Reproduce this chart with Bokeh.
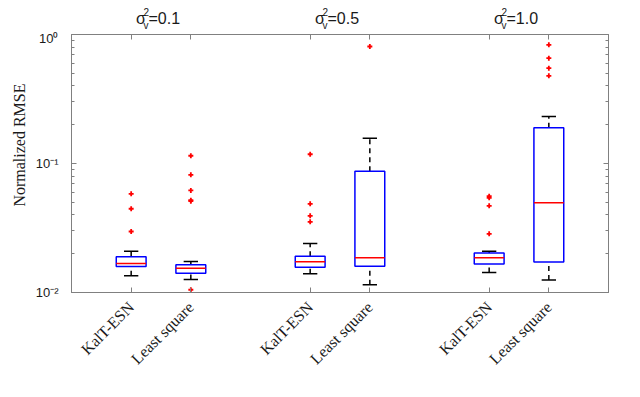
import math
from bokeh.plotting import figure
from bokeh.layouts import column
from bokeh.models import FixedTicker, LinearAxis, LogAxis, Title, ColumnDataSource
from bokeh.core.properties import value
from bokeh.embed import file_html
from bokeh.resources import INLINE

# ---------------- data ----------------
methods = ["KalT-ESN", "Least square"]
noise_levels = ["0.1", "0.5", "1.0"]
positions = [1, 2, 4, 5, 7, 8]
tick_labels = ["KalT-ESN", "Least square", "KalT-ESN", "Least square", "KalT-ESN", "Least square"]

whisker_low = [0.0135, 0.0126, 0.0140, 0.0115, 0.0143, 0.0125]
q1 = [0.0159, 0.0141, 0.0157, 0.0160, 0.0166, 0.0172]
median = [0.0168, 0.0154, 0.0173, 0.0186, 0.0186, 0.0496]
q3 = [0.0189, 0.0164, 0.0191, 0.0872, 0.0202, 0.189]
whisker_high = [0.0209, 0.0174, 0.0240, 0.157, 0.0209, 0.231]
outliers = [
    [0.0582, 0.0446, 0.0297],
    [0.1148, 0.0817, 0.0618, 0.0520, 0.0510, 0.0105],
    [0.118, 0.0487, 0.0393, 0.0353],
    [0.807],
    [0.0558, 0.0542, 0.0470, 0.0285],
    [0.832, 0.655, 0.548, 0.478],
]

major_ticks = [0.01, 0.1, 1.0]
major_tick_labels = ["10\u207b\u00b2", "10\u207b\u00b9", "10\u2070"]
minor_ticks = [m * d for d in (0.01, 0.1) for m in range(2, 10)]

# ---------------- styling constants ----------------
BOX_HALF = 0.25
CAP_HALF = 0.12
AXIS_COLOR = "#808080"
TEXT_COLOR = "#1a1a1a"
W = 640
HEADER_H = 30
MAIN_H = 397 - HEADER_H
BL, BR = 71, 32

# ---------------- main figure ----------------
p = figure(width=W, height=MAIN_H, x_range=(0, 9), y_range=(0.01, 1),
           y_axis_type="log", output_backend="svg", toolbar_location=None,
           min_border_left=BL, min_border_right=BR, min_border_top=4,
           min_border_bottom=105)
p.grid.visible = False
p.outline_line_color = AXIS_COLOR
p.background_fill_color = "white"
p.border_fill_color = "white"

src = ColumnDataSource(dict(
    x=positions,
    left=[x - BOX_HALF for x in positions],
    right=[x + BOX_HALF for x in positions],
    cl=[x - CAP_HALF for x in positions],
    cr=[x + CAP_HALF for x in positions],
    lo=whisker_low, q1=q1, med=median, q3=q3, hi=whisker_high,
))

# whiskers (dashed)
p.segment(x0="x", x1="x", y0="q3", y1="hi", source=src, line_color="black",
          line_width=1.5, line_dash="5 4")
p.segment(x0="x", x1="x", y0="lo", y1="q1", source=src, line_color="black",
          line_width=1.5, line_dash="5 4")
# caps
p.segment(x0="cl", x1="cr", y0="hi", y1="hi", source=src, line_color="black", line_width=1.5)
p.segment(x0="cl", x1="cr", y0="lo", y1="lo", source=src, line_color="black", line_width=1.5)
# boxes
p.quad(left="left", right="right", bottom="q1", top="q3", source=src,
       fill_color=None, line_color="#0000ff", line_width=1.5)
# medians
p.segment(x0="left", x1="right", y0="med", y1="med", source=src,
          line_color="#ff0000", line_width=1.5)
# outliers
ox, oy = [], []
for x, vals in zip(positions, outliers):
    for v in vals:
        ox.append(x)
        oy.append(v)
p.scatter(ox, oy, marker="cross", size=5, line_color="#ff0000", line_width=1.8)

# ---------------- axes ----------------
def style_axis(ax):
    ax.axis_line_color = AXIS_COLOR
    ax.major_tick_line_color = AXIS_COLOR
    ax.minor_tick_line_color = AXIS_COLOR
    ax.major_tick_in = 5
    ax.major_tick_out = 0
    ax.minor_tick_in = 3
    ax.minor_tick_out = 0

xb = p.xaxis[0]
xb.ticker = FixedTicker(ticks=positions)
xb.major_label_overrides = {pos: lab for pos, lab in zip(positions, tick_labels)}
xb.major_label_orientation = math.pi / 4
xb.major_label_text_font = "Liberation Serif"
xb.major_label_text_font_size = "16px"
xb.major_label_text_color = TEXT_COLOR
xb.major_label_standoff = 12
style_axis(xb)

yl = p.yaxis[0]
yl.ticker = FixedTicker(ticks=major_ticks, minor_ticks=minor_ticks)
yl.major_label_overrides = {t: lab for t, lab in zip(major_ticks, major_tick_labels)}
yl.major_label_text_font = "Liberation Sans"
yl.major_label_text_font_size = "13px"
yl.major_label_text_color = TEXT_COLOR
yl.major_label_standoff = 13
style_axis(yl)

top = LinearAxis(ticker=FixedTicker(ticks=positions), major_label_text_color=None,
                 major_label_text_font_size="1px", major_label_standoff=0)
style_axis(top)
p.add_layout(top, "above")

right = LogAxis(ticker=FixedTicker(ticks=major_ticks, minor_ticks=minor_ticks),
                major_label_text_color=None, major_label_text_font_size="1px",
                major_label_standoff=0)
style_axis(right)
p.add_layout(right, "right")

# y axis label (as a side title so it can sit off-centre like the reference)
p.add_layout(Title(text="Normalized RMSE", align="right", offset=49,
                   text_font="Liberation Serif", text_font_size="16px",
                   text_font_style="normal", text_color=TEXT_COLOR), "left")

# ---------------- header with sigma_v^2 labels ----------------
h = figure(width=W, height=HEADER_H, x_range=p.x_range, y_range=(0, HEADER_H),
           x_axis_location=None, y_axis_location=None, output_backend="svg",
           toolbar_location=None, min_border_left=BL, min_border_right=BR,
           min_border_top=0, min_border_bottom=0)
h.grid.visible = False
h.outline_line_color = None

centers = [(positions[2 * i] + positions[2 * i + 1]) / 2 for i in range(len(noise_levels))]
font = value("Liberation Sans")
h.text(x=centers, y=[11.7] * 3, text=["\u03c3"] * 3, x_offset=-25,
       text_font=font, text_font_size="16px", text_color=TEXT_COLOR,
       text_align="left", text_baseline="alphabetic")
h.text(x=centers, y=[18.5] * 3, text=["2"] * 3, x_offset=-17.5,
       text_font=font, text_font_size="10px", text_color=TEXT_COLOR,
       text_align="left", text_baseline="alphabetic")
h.text(x=centers, y=[5.0] * 3, text=["v"] * 3, x_offset=-17.5,
       text_font=font, text_font_size="10px", text_color=TEXT_COLOR,
       text_align="left", text_baseline="alphabetic")
h.text(x=centers, y=[11.7] * 3, text=["=" + lvl for lvl in noise_levels], x_offset=-12.5,
       text_font=font, text_font_size="16px", text_color=TEXT_COLOR,
       text_align="left", text_baseline="alphabetic")

layout = column(h, p)
open("out.html", "w").write(file_html(layout, INLINE))
